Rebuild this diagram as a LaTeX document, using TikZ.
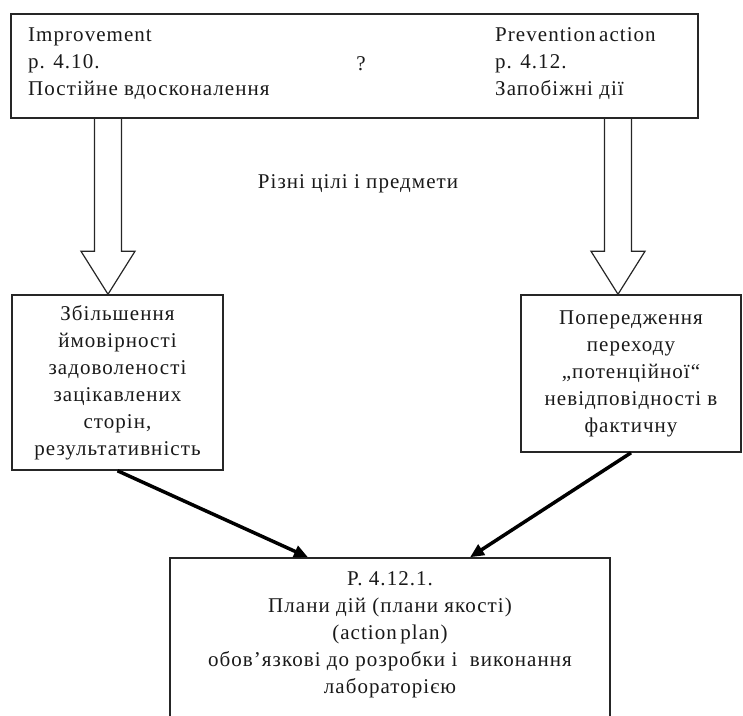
\documentclass[tikz,border=0pt]{standalone}
\usepackage{fontspec}
\setmainfont{Liberation Serif}[LetterSpace=5]
\usetikzlibrary{arrows.meta,calc}
\begin{document}
\begin{tikzpicture}[x=1pt,y=-1pt,
  box/.style={draw=black!85, line width=1.5pt, inner sep=0pt},
  txt/.style={font=\fontsize{21}{27}\selectfont, text=black!90, inner sep=0pt, align=center},
  hollow/.style={draw=black!85, line width=1.2pt, line join=miter},
  fatarrow/.style={line width=3.5pt, draw=black, -{Triangle[length=14pt,width=12pt]}}]
\useasboundingbox (0,0) rectangle (743,715);
\clip (0,0) rectangle (743,715);
% boxes
\node[box, minimum width=687pt, minimum height=104pt] (top) at (354.5,66) {};
\node[box, txt, minimum width=211pt, minimum height=175pt] (lb) at (117.5,382.5)
  {Збільшення\\ймовірності\\задоволеності\\зацікавлених\\сторін,\\результативність};
\node[box, txt, minimum width=220pt, minimum height=157pt] (rb) at (631,373.5)
  {Попередження\\переходу\\„потенційної“\\невідповідності в\\фактичну};
\node[box, minimum width=440pt, minimum height=182pt] (bb) at (390,649) {};
% texts
\node[txt, align=left, anchor=west] (tl) at (28,64) {Improvement\\p. 4.10.\\Постійне вдосконалення};
\node[txt, align=left, anchor=west] (tr) at (495,64) {Prevention\,action\\p. 4.12.\\Запобіжні дії};
\node[txt, anchor=base] (q) at (361,70) {?};
\node[txt, anchor=base] (mid) at (358,188) {Різні цілі і предмети};
\node[txt] (bt) at (390,634.5) {P. 4.12.1.\\Плани дій (плани якості)\\(action\,plan)\\обов’язкові до розробки і\ \ виконання\\лабораторією};
% hollow block arrows
\coordinate (lax) at (108,0);
\coordinate (rax) at (618,0);
\draw[hollow] ($(lax|-top.south)+(-13.5,0)$) -- ($(lax|-lb.north)+(-13.5,-43)$)
  -- ($(lax|-lb.north)+(-27,-43)$) -- (lax|-lb.north) -- ($(lax|-lb.north)+(27,-43)$)
  -- ($(lax|-lb.north)+(13.5,-43)$) -- ($(lax|-top.south)+(13.5,0)$);
\draw[hollow] ($(rax|-top.south)+(-13.5,0)$) -- ($(rax|-rb.north)+(-13.5,-43)$)
  -- ($(rax|-rb.north)+(-27,-43)$) -- (rax|-rb.north) -- ($(rax|-rb.north)+(27,-43)$)
  -- ($(rax|-rb.north)+(13.5,-43)$) -- ($(rax|-top.south)+(13.5,0)$);
% thick arrows
\draw[fatarrow] (lb.south) -- ($(bb.north)+(-82,0)$);
\draw[fatarrow] (rb.south) -- ($(bb.north)+(80,0)$);
\end{tikzpicture}
\end{document}
